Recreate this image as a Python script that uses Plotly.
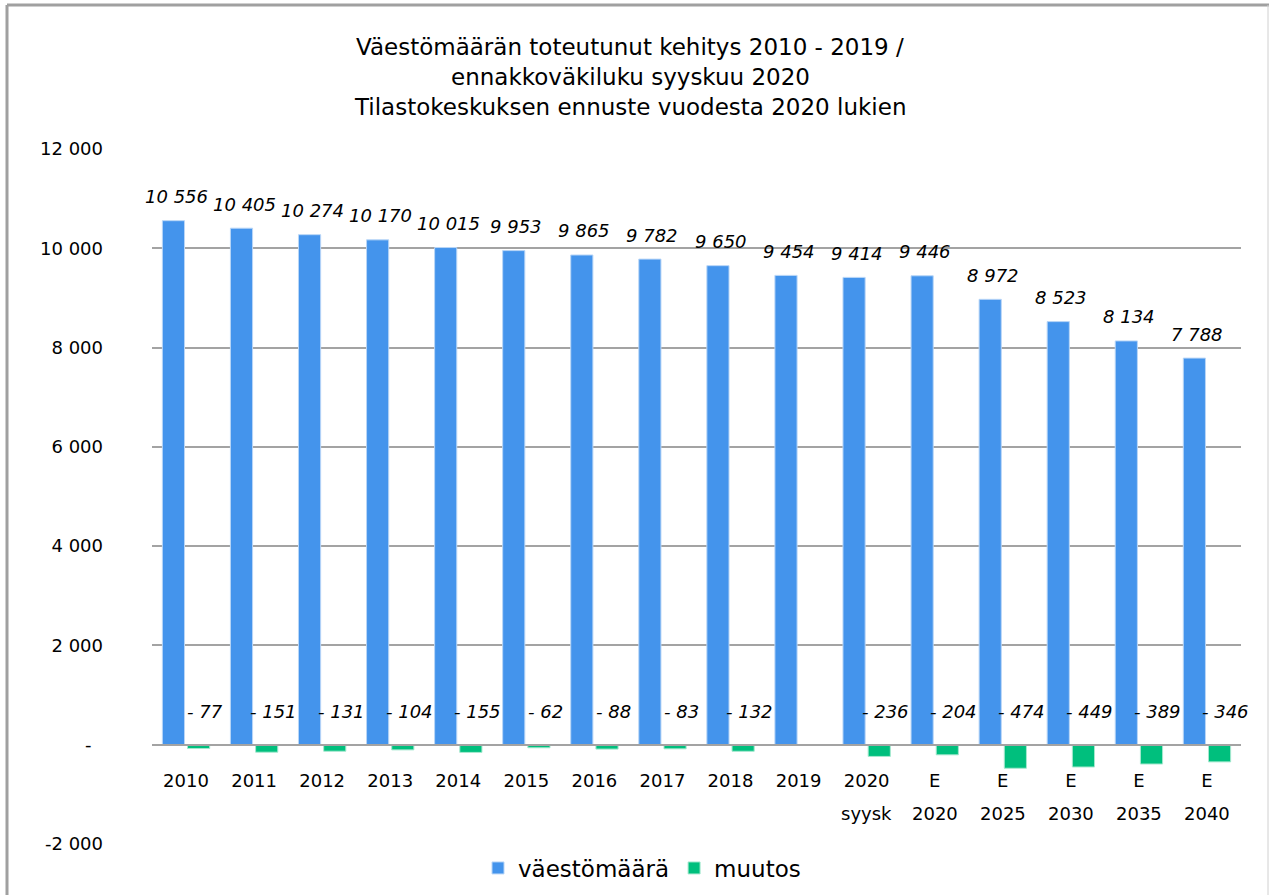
import plotly.graph_objects as go

# ---------------- data ----------------
categories = ["2010", "2011", "2012", "2013", "2014", "2015", "2016", "2017", "2018", "2019",
              "2020 syysk", "E 2020", "E 2025", "E 2030", "E 2035", "E 2040"]
label_line1 = ["2010", "2011", "2012", "2013", "2014", "2015", "2016", "2017", "2018", "2019",
               "2020", "E", "E", "E", "E", "E"]
label_line2 = ["", "", "", "", "", "", "", "", "", "",
               "syysk", "2020", "2025", "2030", "2035", "2040"]
population = [10556, 10405, 10274, 10170, 10015, 9953, 9865, 9782, 9650, 9454,
              9414, 9446, 8972, 8523, 8134, 7788]
change = [-77, -151, -131, -104, -155, -62, -88, -83, -132, None,
          -236, -204, -474, -449, -389, -346]
y_tickvals = [-2000, 0, 2000, 4000, 6000, 8000, 10000, 12000]
y_ticktext = ["-2 000", "-\u00a0\u00a0", "2 000", "4 000", "6 000", "8 000", "10 000", "12 000"]
title_lines = ["Väestömäärän toteutunut kehitys 2010 - 2019 /",
               "ennakkoväkiluku syyskuu 2020",
               "Tilastokeskuksen ennuste vuodesta 2020 lukien"]
series_names = ["väestömäärä", "muutos"]

BLUE = "rgb(68,148,236)"
GREEN = "rgb(0,191,125)"
GRID = "#a3a3a3"
FONT = "DejaVu Sans"

W, H = 1269, 895
L, R, T, B = 152, 28, 149, 51
PW, PH = W - L - R, H - T - B


def px_x(px):
    return (px - L) / PW


def px_y(py):
    return (H - B - py) / PH


n = len(categories)
idx = list(range(n))

fig = go.Figure()
fig.add_trace(go.Bar(x=categories, y=population, name=series_names[0],
                     marker=dict(color=BLUE, line=dict(color="#b9d6f7", width=1))))
fig.add_trace(go.Bar(x=categories, y=change, name=series_names[1],
                     marker=dict(color=GREEN, line=dict(color="#a6e8cf", width=1))))

label_font = dict(family=FONT, size=18, color="black", style="italic")
annotations = []
for i, v in zip(idx, population):
    annotations.append(dict(x=i, y=v, xref="x", yref="y", text=f"{v:,}".replace(",", " "),
                            showarrow=False, yanchor="middle", yshift=24, xshift=-10,
                            font=label_font))
for i, v in zip(idx, change):
    if v is None:
        continue
    annotations.append(dict(x=i, y=0, xref="x", yref="y", text=f"- {abs(v)}",
                            showarrow=False, yanchor="middle", yshift=33, xshift=19,
                            font=label_font))
# second line of the category labels
for i, t2 in zip(idx, label_line2):
    if not t2:
        continue
    annotations.append(dict(x=i, y=0, xref="x", yref="y", text=t2, showarrow=False,
                            yanchor="middle", yshift=-69,
                            font=dict(family=FONT, size=18, color="black")))
for line, py in zip(title_lines, [47, 77, 107]):
    annotations.append(dict(x=px_x(630), y=px_y(py), xref="paper", yref="paper", text=line,
                            showarrow=False, xanchor="center", yanchor="middle",
                            font=dict(family=FONT, size=23, color="black")))

shapes = [
    dict(type="line", xref="paper", yref="paper", x0=px_x(7), x1=px_x(1269), y0=px_y(5), y1=px_y(5),
         line=dict(color="#a0a0a0", width=3)),
    dict(type="line", xref="paper", yref="paper", x0=px_x(7), x1=px_x(7), y0=px_y(5), y1=px_y(895),
         line=dict(color="#a0a0a0", width=3)),
    dict(type="line", xref="paper", yref="paper", x0=px_x(1268), x1=px_x(1268), y0=px_y(5), y1=px_y(895),
         line=dict(color="#d0d0d0", width=1)),
]

zero_pos = (0 - y_tickvals[0]) / (y_tickvals[-1] - y_tickvals[0])

fig.update_layout(
    width=W, height=H,
    margin=dict(l=L, r=R, t=T, b=B, autoexpand=False),
    paper_bgcolor="white", plot_bgcolor="white",
    barmode="group", bargap=0.26, bargroupgap=0.12,
    font=dict(family=FONT, size=18, color="black"),
    showlegend=True,
    legend=dict(orientation="h", x=px_x(642), xanchor="center", y=px_y(868), yanchor="middle",
                font=dict(family=FONT, size=23, color="black"),
                traceorder="normal"),
    xaxis=dict(type="category", categoryorder="array", categoryarray=categories,
               range=[-0.5, n - 0.5], autorange=False,
               tickvals=categories, ticktext=label_line1,
               anchor="free", position=zero_pos, showline=True, linecolor=GRID, linewidth=2,
               ticks="", ticklabelstandoff=20, showgrid=False, automargin=False,
               tickfont=dict(family=FONT, size=18, color="black")),
    yaxis=dict(range=[y_tickvals[0], y_tickvals[-1]], autorange=False,
               tickvals=y_tickvals, ticktext=y_ticktext,
               showgrid=True, gridcolor=GRID, gridwidth=2, zeroline=True, zerolinecolor=GRID,
               zerolinewidth=2, showline=False, ticks="", ticklabelstandoff=48, automargin=False,
               tickfont=dict(family=FONT, size=18, color="black")),
    annotations=annotations,
    shapes=shapes,
)

fig.write_html("out.html", config={"displayModeBar": False},
               post_script="document.body.style.margin='0px';")
